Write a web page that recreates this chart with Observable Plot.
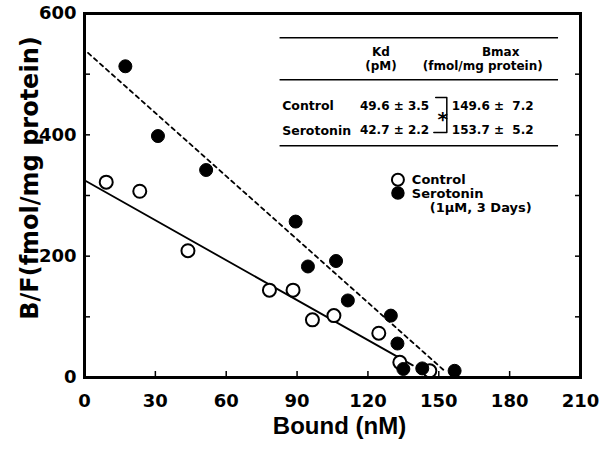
<!DOCTYPE html>
<html><head><meta charset="utf-8">
<script src="https://cdn.jsdelivr.net/npm/d3@7"></script>
<script src="https://cdn.jsdelivr.net/npm/@observablehq/plot@0.6"></script>
<style>
body{margin:0;background:#fff}
#chart svg{display:block}
</style>
</head><body><div id="chart"></div><script>
// Data
const controlBound = [9.2, 23.4, 43.8, 78.3, 88.3, 96.5, 105.6, 124.6, 133.5, 146.2];
const controlBF    = [322, 307, 209, 144, 144, 95, 102, 73, 25, 11];
const serotoninBound = [17.3, 31.1, 51.5, 89.4, 94.6, 106.5, 111.5, 129.7, 132.5, 135, 143, 156.7];
const serotoninBF    = [513, 398, 342, 257, 183, 192, 127, 102, 56, 14, 15, 11];
// Fitted Scatchard lines (endpoints)
const controlFitBound = [0, 139];
const controlFitBF    = [325, 20];
const serotoninFitBound = [1.5, 153];
const serotoninFitBF    = [535, 9];
// Ticks
const xTicks = [0, 30, 60, 90, 120, 150, 180, 210];
const yTicks = [0, 200, 400, 600];
const yMinorTicks = [100, 200, 300, 400, 500];
// Table / legend text
const tableRows = ["Control", "Serotonin"];
const kdValues = ["49.6 ± 3.5", "42.7 ± 2.2"];
const bmaxValues = ["149.6 ±  7.2", "153.7 ±  5.2"];
const tableHeaders = ["Kd", "Bmax"];
const tableUnits = ["(pM)", "(fmol/mg protein)"];
const legendLabels = ["Control", "Serotonin"];
const legendNote = ["(1μM, 3 Days)"];
const xLabel = ["Bound (nM)"];
const yLabel = ["B/F(fmol/mg protein)"];

const control = controlBound.map((x, i) => ({x, y: controlBF[i]}));
const serotonin = serotoninBound.map((x, i) => ({x, y: serotoninBF[i]}));
const controlFit = controlFitBound.map((x, i) => ({x, y: controlFitBF[i]}));
const serotoninFit = serotoninFitBound.map((x, i) => ({x, y: serotoninFitBF[i]}));

const tableFont = {fontFamily: "DejaVu Sans", fontWeight: "bold", fontSize: 13, fill: "black"};

const plot = Plot.plot({
  width: 609, height: 449,
  marginLeft: 84, marginRight: 29, marginTop: 13, marginBottom: 72,
  x: {domain: [0, 210]},
  y: {domain: [0, 600]},
  style: {fontFamily: "DejaVu Sans", fontWeight: "bold", background: "white", color: "black"},
  marks: [
    // tick labels
    Plot.axisX(xTicks, {tickSize: 0, tickPadding: 17, fontSize: 18, label: null}),
    Plot.axisY(yTicks, {tickSize: 0, tickPadding: 8, fontSize: 18, label: null}),
    // inward ticks
    Plot.axisX(xTicks, {tickSize: 6, dy: -6, tickFormat: () => "", label: null, strokeWidth: 1.5}),
    Plot.axisY(yMinorTicks, {tickSize: 6, dx: 6, tickFormat: () => "", label: null, strokeWidth: 1.5}),
    Plot.axisY(yMinorTicks, {anchor: "right", tickSize: 6, dx: -6, tickFormat: () => "", label: null, strokeWidth: 1.5}),
    // fitted lines
    Plot.line(controlFit, {x: "x", y: "y", stroke: "black", strokeWidth: 1.8}),
    Plot.line(serotoninFit, {x: "x", y: "y", stroke: "black", strokeWidth: 1.8, strokeDasharray: "4,4"}),
    // data points
    Plot.dot(control, {x: "x", y: "y", r: 6.5, fill: "white", stroke: "black", strokeWidth: 2}),
    Plot.dot(serotonin, {x: "x", y: "y", r: 6.5, fill: "black", stroke: "black", strokeWidth: 1}),
    // table rules
    Plot.ruleY([560, 491, 382], {x1: 82.8, x2: 200.7, stroke: "black", strokeWidth: 1.5}),
    // table headers
    Plot.text(tableHeaders, {x: [125.5, 176.2], y: [537, 537], text: d => d, ...tableFont, fontSize: 12}),
    Plot.text(tableUnits, {x: [125.5, 168.6], y: [513, 513], text: d => d, ...tableFont, fontSize: 12, letterSpacing: 1.3}),
    // table rows
    Plot.text(tableRows, {x: [83.7, 83.7], y: [448, 407], text: d => d, textAnchor: "start", ...tableFont, fontSize: 12.5}),
    Plot.text(kdValues, {x: [116.6, 116.6], y: [448, 407], text: d => d, textAnchor: "start", ...tableFont, fontSize: 12}),
    Plot.text(bmaxValues, {x: [155.5, 155.5], y: [448, 407], text: d => d, textAnchor: "start", ...tableFont, fontSize: 12}),
    // significance bracket
    Plot.line([[148.7, 461.5], [153.4, 461.5], [153.4, 403.8], [147.9, 403.8]], {stroke: "black", strokeWidth: 1.5}),
    Plot.text(["*"], {x: 151.7, y: 425, text: d => d, fontFamily: "DejaVu Sans", fontWeight: "bold", fontSize: 20}),
    // legend
    Plot.dot([legendLabels[0]], {x: 132.7, y: 326, r: 6, fill: "white", stroke: "black", strokeWidth: 2}),
    Plot.dot([legendLabels[1]], {x: 132.7, y: 304, r: 6, fill: "black", stroke: "black"}),
    Plot.text(legendLabels, {x: [138.6, 138.6], y: [326, 303], text: d => d, textAnchor: "start", ...tableFont}),
    Plot.text(legendNote, {x: 146.2, y: 280, text: d => d, textAnchor: "start", ...tableFont}),
    // axis titles
    Plot.text(xLabel, {frameAnchor: "bottom", dx: 7, dy: 49, text: d => d, textAnchor: "middle", lineAnchor: "middle", fontFamily: "Liberation Sans", fontWeight: "bold", fontSize: 24}),
    Plot.text(yLabel, {frameAnchor: "left", y: 328.8, dx: -54, rotate: -90, text: d => d, textAnchor: "middle", lineAnchor: "middle", fontFamily: "DejaVu Sans", fontWeight: "bold", fontSize: 24}),
    // frame
    Plot.frame({stroke: "black", strokeWidth: 3})
  ]
});
document.getElementById("chart").appendChild(plot);
</script></body></html>
